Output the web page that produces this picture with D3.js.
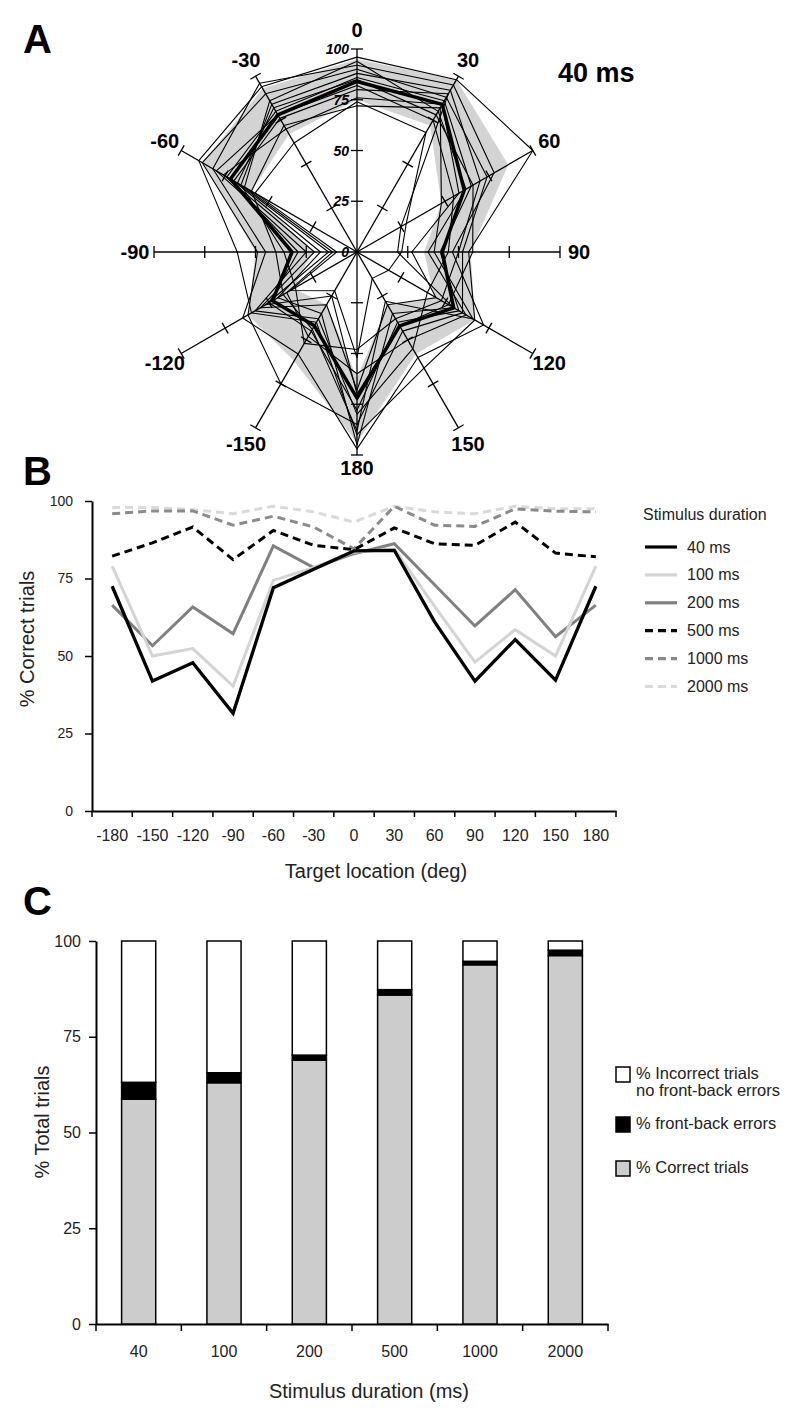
<!DOCTYPE html>
<html><head><meta charset="utf-8">
<script src="https://cdn.jsdelivr.net/npm/d3@7"></script>
<style>
body{margin:0;background:#fff}
svg{display:block}
text{font-family:"Liberation Sans",Arial,Helvetica,sans-serif}
</style>
</head><body>
<svg id="chart" width="800" height="1422"></svg>
<script>
// ---------- Panel A data (polar, 40 ms) ----------
const radarAngles = [0,30,60,90,120,150,180,-150,-120,-90,-60,-30];
const radarScaleTicks = [0,25,50,75,100];
const radarMean  = [84,84,61,42,55,42,72,42,48,32,72,78];
const radarUpper = [95,98,86,56,67,58,94,62,62,50,88,93];
const radarLower = [75,72,48,33,44,30,62,30,36,22,60,67];
const subject01 = [96,98,100,55,67,66,90,40,60,59,90,94];
const subject02 = [90,88,74,52,60,45,85,75,62,49,88,90];
const subject03 = [86,86,65,41,58,40,78,45,50,29,74,80];
const subject04 = [80,90,25,20,55,35,95,35,45,18,70,76];
const subject05 = [94,80,62,35,62,50,60,48,40,12,64,86];
const subject06 = [76,84,58,27,45,30,68,30,55,21,76,70];
const subject07 = [88,92,70,50,48,38,48,52,35,36,66,84];
const subject08 = [82,75,55,45,40,55,80,38,58,25,80,78];
const subject09 = [72,82,48,38,66,28,88,44,42,40,60,72];
const subject10 = [85,78,66,57,52,42,70,25,52,14,68,82];
const subject11 = [74,68,28,22,18,15,52,22,38,10,58,62];
const subject12 = [92,95,78,47,72,60,97,58,65,45,82,96];
const subjects = [subject01,subject02,subject03,subject04,subject05,subject06,subject07,subject08,subject09,subject10,subject11,subject12];

// ---------- Panel B data ----------
const locations = ["-180","-150","-120","-90","-60","-30","0","30","60","90","120","150","180"];
const yTicksB = [0,25,50,75,100];
const pc40   = [72.5,41.9,47.8,31.5,72.0,78.0,83.9,84.1,61.0,41.9,55.3,42.2,72.5];
const pc100  = [79.0,50.0,52.4,40.3,74.4,78.5,83.5,84.5,66.0,48.0,58.5,50.0,79.0];
const pc200  = [66.4,53.3,65.8,57.2,85.5,78.5,83.0,86.2,73.0,59.7,71.4,56.2,66.4];
const pc500  = [82.2,86.5,91.6,81.1,90.5,85.7,84.3,91.3,86.2,85.7,93.2,83.2,82.0];
const pc1000 = [95.9,96.8,96.8,92.2,95.1,91.6,84.6,98.3,92.2,91.8,97.5,96.7,96.5];
const pc2000 = [97.9,97.9,97.2,95.9,98.3,96.5,93.2,98.3,96.5,95.9,98.3,97.5,97.5];
const seriesNamesB = ["40 ms","100 ms","200 ms","500 ms","1000 ms","2000 ms"];

// ---------- Panel C data ----------
const durations = ["40","100","200","500","1000","2000"];
const yTicksC = [0,25,50,75,100];
const pctCorrect    = [58.7,63.0,68.9,85.9,93.8,96.2];
const pctFrontBack  = [4.4,2.6,1.3,1.4,0.9,1.4];
const legendC = ["% Incorrect trials|no front-back errors","% front-back errors","% Correct trials"];

const svg = d3.select("#chart");

// ================= Panel A =================
svg.append("text").attr("x",23).attr("y",53).attr("font-size",40).attr("font-weight","bold").text("A");
svg.append("text").attr("x",558).attr("y",82).attr("font-size",27).attr("font-weight","bold").text("40 ms");

const rScale = d3.scaleLinear().domain([0,100]).range([0,203]);
const ang = a => (a<0?a+360:a)*Math.PI/180;
const gA = svg.append("g").attr("transform","translate(357,252)");

// SD band
const band = d3.areaRadial()
  .angle((d,i)=>ang(radarAngles[i]))
  .innerRadius((d,i)=>rScale(radarLower[i]))
  .outerRadius((d,i)=>rScale(radarUpper[i]))
  .curve(d3.curveLinearClosed);
gA.append("path").attr("d",band(radarAngles)).attr("fill","#d3d3d3").attr("fill-rule","evenodd").attr("stroke","none");

// axes
radarAngles.forEach(a=>{
  const t = ang(a), s=Math.sin(t), c=-Math.cos(t);
  const R = rScale(100);
  gA.append("line").attr("x1",0).attr("y1",0).attr("x2",R*s).attr("y2",R*c)
    .attr("stroke","#000").attr("stroke-width",1.3);
  [25,50,75,100].forEach(v=>{
    const r=rScale(v), px=Math.cos(t), py=Math.sin(t), h=6;
    gA.append("line").attr("x1",r*s-h*px).attr("y1",r*c-h*py).attr("x2",r*s+h*px).attr("y2",r*c+h*py)
      .attr("stroke","#000").attr("stroke-width",1.3);
  });
  const lr = a===180?216:222;
  gA.append("text").attr("x",lr*s).attr("y",lr*c).attr("text-anchor","middle").attr("dominant-baseline","central")
    .attr("font-size",20).attr("font-weight","bold").text(a);
});

// subjects
const radial = arr => d3.lineRadial()
  .angle((d,i)=>ang(radarAngles[i]))
  .radius(d=>rScale(d))
  .curve(d3.curveLinearClosed)(arr);
subjects.forEach(sub=>{
  gA.append("path").attr("d",radial(sub)).attr("fill","none").attr("stroke","#000").attr("stroke-width",1.1).attr("stroke-linejoin","round");
});
gA.append("path").attr("d",radial(radarMean)).attr("fill","none").attr("stroke","#000").attr("stroke-width",3.5).attr("stroke-linejoin","round");

// scale labels
radarScaleTicks.forEach(v=>{
  gA.append("text").attr("x",-8).attr("y",-rScale(v)).attr("text-anchor","end").attr("dominant-baseline","central")
    .attr("font-size",14).attr("font-weight","bold").attr("font-style","italic").text(v);
});

// ================= Panel B =================
svg.append("text").attr("x",23).attr("y",485).attr("font-size",40).attr("font-weight","bold").text("B");
const xB = d3.scaleBand().domain(locations).range([92,616]);
const yB = d3.scaleLinear().domain([0,100]).range([811,501]);
const gB = svg.append("g");

const yAxB = gB.append("g").attr("transform","translate(92,0)")
  .call(d3.axisLeft(yB).tickValues(yTicksB).tickSize(7).tickSizeOuter(0).tickPadding(12));
yAxB.selectAll("text").attr("font-size",14).attr("fill","#222").attr("font-family","Liberation Sans, Arial, sans-serif");
yAxB.select(".domain").attr("stroke-width",2);
yAxB.selectAll(".tick line").attr("stroke-width",1.5);

const xAxB = gB.append("g").attr("transform","translate(0,811)")
  .call(d3.axisBottom(xB).tickSize(0).tickSizeOuter(0).tickPadding(19));
xAxB.selectAll("text").attr("font-size",16).attr("fill","#222").attr("font-family","Liberation Sans, Arial, sans-serif");
xAxB.select(".domain").attr("stroke-width",2);
const boundsB = locations.map(d=>xB(d)).concat([xB.range()[1]]);
gB.selectAll(".btick").data(boundsB).enter().append("line")
  .attr("x1",d=>d).attr("x2",d=>d).attr("y1",811).attr("y2",817).attr("stroke","#000").attr("stroke-width",1.5);

svg.append("text").attr("x",376).attr("y",878).attr("text-anchor","middle").attr("font-size",20).attr("fill","#222").text("Target location (deg)");
svg.append("text").attr("transform","translate(34,639) rotate(-90)").attr("text-anchor","middle").attr("font-size",20).attr("fill","#222").text("% Correct trials");

const lineB = d3.line().x((d,i)=>xB(locations[i])+xB.bandwidth()/2).y(d=>yB(d));
const stylesB = [
  {data:pc2000,color:"#d9d9d9",dash:"8,5",w:3},
  {data:pc1000,color:"#8a8a8a",dash:"8,5",w:3},
  {data:pc500,color:"#000",dash:"8,5",w:3},
  {data:pc200,color:"#808080",dash:null,w:3},
  {data:pc100,color:"#d4d4d4",dash:null,w:3},
  {data:pc40,color:"#000",dash:null,w:3.3}
];
stylesB.forEach(s=>{
  gB.append("path").attr("d",lineB(s.data)).attr("fill","none").attr("stroke",s.color)
    .attr("stroke-width",s.w).attr("stroke-dasharray",s.dash).attr("stroke-linejoin","miter");
});

// legend B
const legStyles = [stylesB[5],stylesB[4],stylesB[3],stylesB[2],stylesB[1],stylesB[0]];
svg.append("text").attr("x",643).attr("y",520).attr("font-size",16).attr("fill","#222").text("Stimulus duration");
seriesNamesB.forEach((n,i)=>{
  const y = 547 + i*27.9;
  svg.append("line").attr("x1",645).attr("x2",677).attr("y1",y).attr("y2",y)
    .attr("stroke",legStyles[i].color).attr("stroke-width",3.2).attr("stroke-dasharray",legStyles[i].dash);
  svg.append("text").attr("x",687).attr("y",y).attr("dominant-baseline","central").attr("font-size",16).attr("fill","#222").text(n);
});

// ================= Panel C =================
svg.append("text").attr("x",23).attr("y",915).attr("font-size",40).attr("font-weight","bold").text("C");
const xC = d3.scaleBand().domain(durations).range([96,608]).paddingInner(0.6).paddingOuter(0.3);
const yC = d3.scaleLinear().domain([0,100]).range([1324,941]);
const gC = svg.append("g");

const yAxC = gC.append("g").attr("transform","translate(96,0)")
  .call(d3.axisLeft(yC).tickValues(yTicksC).tickSize(7).tickSizeOuter(0).tickPadding(8));
yAxC.selectAll("text").attr("font-size",16).attr("fill","#222").attr("font-family","Liberation Sans, Arial, sans-serif");
yAxC.select(".domain").attr("stroke-width",2);
yAxC.selectAll(".tick line").attr("stroke-width",1.5);

const xAxC = gC.append("g").attr("transform","translate(0,1324)")
  .call(d3.axisBottom(xC).tickSize(0).tickSizeOuter(0).tickPadding(22));
xAxC.selectAll("text").attr("font-size",16).attr("fill","#222").attr("font-family","Liberation Sans, Arial, sans-serif");
xAxC.select(".domain").attr("stroke-width",2);
const stepC = xC.step();
const boundsC = durations.map(d=>xC(d)-xC.paddingOuter()*stepC).concat([xC.range()[1]]);
gC.selectAll(".ctick").data(boundsC).enter().append("line")
  .attr("x1",d=>d).attr("x2",d=>d).attr("y1",1324).attr("y2",1331).attr("stroke","#000").attr("stroke-width",1.5);

svg.append("text").attr("x",369).attr("y",1398).attr("text-anchor","middle").attr("font-size",20).attr("fill","#222").text("Stimulus duration (ms)");
svg.append("text").attr("transform","translate(49,1122) rotate(-90)").attr("text-anchor","middle").attr("font-size",20).attr("fill","#222").text("% Total trials");

durations.forEach((d,i)=>{
  const c = pctCorrect[i], f = pctFrontBack[i];
  const segs = [
    {lo:0,hi:c,fill:"#cccccc"},
    {lo:c,hi:c+f,fill:"#000"},
    {lo:c+f,hi:100,fill:"#fff"}
  ];
  segs.forEach(s=>{
    gC.append("rect").attr("x",xC(d)).attr("width",xC.bandwidth())
      .attr("y",yC(s.hi)).attr("height",yC(s.lo)-yC(s.hi))
      .attr("fill",s.fill).attr("stroke","#000").attr("stroke-width",1.5);
  });
});

// legend C
const legFills = ["#fff","#000","#cccccc"];
const legY = [1067,1117,1161];
legendC.forEach((t,i)=>{
  svg.append("rect").attr("x",616).attr("y",legY[i]).attr("width",14).attr("height",15)
    .attr("fill",legFills[i]).attr("stroke","#000").attr("stroke-width",1.5);
  const parts = t.split("|");
  parts.forEach((p,j)=>{
    svg.append("text").attr("x",636).attr("y",legY[i]+6+j*17).attr("dominant-baseline","central")
      .attr("font-size",16.5).attr("fill","#222").text(p);
  });
});
</script>
</body></html>
